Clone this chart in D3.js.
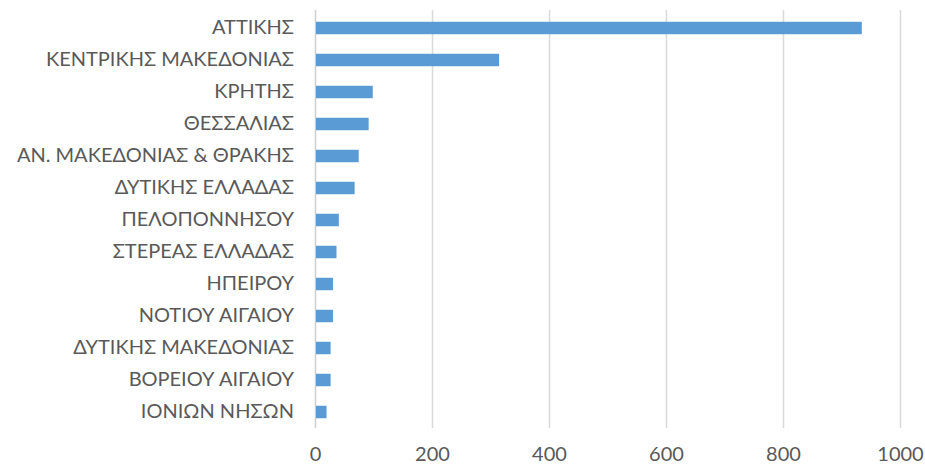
<!DOCTYPE html>
<html><head><meta charset="utf-8">
<script src="https://cdn.jsdelivr.net/npm/d3@7"></script>
<style>body{margin:0;background:#fff}svg{display:block}</style>
</head><body>
<script>
const categories = ["ΑΤΤΙΚΗΣ","ΚΕΝΤΡΙΚΗΣ ΜΑΚΕΔΟΝΙΑΣ","ΚΡΗΤΗΣ","ΘΕΣΣΑΛΙΑΣ","ΑΝ. ΜΑΚΕΔΟΝΙΑΣ & ΘΡΑΚΗΣ","ΔΥΤΙΚΗΣ ΕΛΛΑΔΑΣ","ΠΕΛΟΠΟΝΝΗΣΟΥ","ΣΤΕΡΕΑΣ ΕΛΛΑΔΑΣ","ΗΠΕΙΡΟΥ","ΝΟΤΙΟΥ ΑΙΓΑΙΟΥ","ΔΥΤΙΚΗΣ ΜΑΚΕΔΟΝΙΑΣ","ΒΟΡΕΙΟΥ ΑΙΓΑΙΟΥ","ΙΟΝΙΩΝ ΝΗΣΩΝ"];
const values = [933,313,97,90,73,66,39,35,29,29,25,25,18];
const tickValues = [0,200,400,600,800,1000];

const W = 925, H = 464;
const svg = d3.select("body").append("svg").attr("width",W).attr("height",H);
const x = d3.scaleLinear().domain([0,1000]).range([315.5,900.5]);
const y = d3.scaleBand().domain(categories).range([12,428]).paddingInner(0.61).paddingOuter(0.305);

const font = "Lato, 'Open Sans', sans-serif";
svg.append("g").selectAll("line").data(tickValues).join("line")
  .attr("x1",d=>x(d)).attr("x2",d=>x(d)).attr("y1",10).attr("y2",428)
  .attr("stroke",d=>d===0?"#cfcfcf":"#d9d9d9").attr("stroke-width",1.5);

svg.append("g").selectAll("rect").data(values).join("rect")
  .attr("x",x(0)+0.5).attr("y",(d,i)=>y(categories[i]))
  .attr("width",d=>x(d)-x(0)).attr("height",y.bandwidth())
  .attr("fill","#5B9BD5");

svg.append("g").selectAll("text").data(categories).join("text")
  .attr("x",294).attr("y",d=>y(d)+y.bandwidth()/2).attr("dy","0.28em")
  .attr("text-anchor","end").attr("font-family",font).attr("font-size",20)
  .attr("fill","#595959").text(d=>d);

svg.append("g").selectAll("text").data(tickValues).join("text")
  .attr("x",d=>x(d)).attr("y",461).attr("text-anchor","middle")
  .attr("font-family",font).attr("font-size",20).attr("fill","#595959").text(d=>d);
</script>
</body></html>
